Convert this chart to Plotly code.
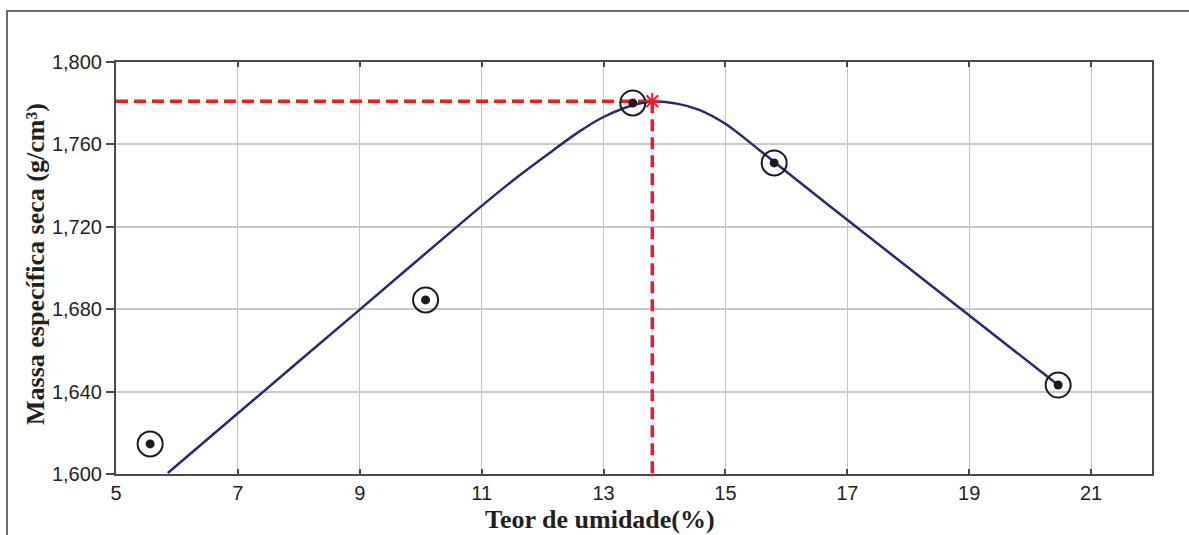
import plotly.graph_objects as go

# Compaction test results: moisture content (%) vs dry density (g/cm³)
moisture = [5.56, 10.08, 13.48, 15.80, 20.46]
dry_density = [1.6146, 1.6845, 1.7801, 1.7510, 1.6432]

# Fitted compaction curve
curve_x = [5.85, 7.0, 9.0, 10.8, 11.56, 12.12, 12.6, 13.0, 13.48, 13.8,
           14.2, 14.57, 15.0, 15.56, 15.8, 16.7, 20.46]
curve_y = [1.6005, 1.6295, 1.6798, 1.7252, 1.7436, 1.7560, 1.7662, 1.7733,
           1.7790, 1.7808, 1.7798, 1.7768, 1.7700, 1.7572, 1.7515, 1.7303,
           1.6432]

# Optimum point (optimum moisture content, maximum dry density)
w_opt = 13.8
rho_max = 1.781

x_ticks = [5, 7, 9, 11, 13, 15, 17, 19, 21]
y_ticks = [1.600, 1.640, 1.680, 1.720, 1.760, 1.800]

W, H = 1189, 535
L, R, T, B = 116, 37, 62, 61
PW, PH = W - L - R, H - T - B


def px(x):
    return (x - L) / PW


def py(y):
    return (H - B - y) / PH


RED = "#ee1c24"
INK = "#1a1a1a"

fig = go.Figure()

# dashed guides to the optimum
fig.add_trace(go.Scatter(
    x=[x_ticks[0], w_opt], y=[rho_max, rho_max], mode="lines",
    line=dict(color=RED, width=3.5, dash="12px,6px"),
    hoverinfo="skip", showlegend=False))
fig.add_trace(go.Scatter(
    x=[w_opt, w_opt], y=[rho_max, y_ticks[0]], mode="lines",
    line=dict(color=RED, width=3.5, dash="12px,6px"),
    hoverinfo="skip", showlegend=False))

# fitted curve
fig.add_trace(go.Scatter(
    x=curve_x, y=curve_y, mode="lines",
    line=dict(color="#262a74", width=2.5, shape="spline", smoothing=0.8),
    showlegend=False))

# measured points: ring + dot
fig.add_trace(go.Scatter(
    x=moisture, y=dry_density, mode="markers",
    marker=dict(symbol="circle-open", size=25, color=INK,
                line=dict(width=2, color=INK)),
    showlegend=False))
fig.add_trace(go.Scatter(
    x=moisture, y=dry_density, mode="markers",
    marker=dict(symbol="circle", size=9, color=INK),
    showlegend=False))

# optimum marker
fig.add_trace(go.Scatter(
    x=[w_opt], y=[rho_max], mode="markers",
    marker=dict(symbol="asterisk-open", size=14, color=RED,
                line=dict(width=2, color=RED)),
    showlegend=False))

tick_font = dict(family="Liberation Sans, Arial, sans-serif", size=20,
                 color="#231f20")
title_font = dict(family="Liberation Serif, Times New Roman, serif", size=26,
                  color="#231f20")

fig.update_xaxes(
    range=[5, 22], tickvals=x_ticks, ticktext=[str(v) for v in x_ticks],
    showgrid=True, gridcolor="#c4c4c4", gridwidth=1,
    showline=True, linecolor="#4a4a4a", linewidth=2, mirror="ticks",
    ticks="inside", ticklen=5, tickcolor="#4a4a4a", tickwidth=1.5,
    tickfont=tick_font, zeroline=False)
fig.update_yaxes(
    range=[1.6, 1.8], tickvals=y_ticks, tickformat=".3f",
    showgrid=True, gridcolor="#c8c8c8", gridwidth=2,
    showline=True, linecolor="#4a4a4a", linewidth=2, mirror=True,
    ticks="outside", ticklen=8, tickcolor="#4a4a4a", tickwidth=1.5,
    tickfont=tick_font, zeroline=False)

fig.update_layout(
    width=W, height=H,
    margin=dict(l=L, r=R, t=T, b=B),
    paper_bgcolor="white", plot_bgcolor="white",
    separators=",.",
    shapes=[dict(type="rect", xref="paper", yref="paper",
                 x0=px(7), x1=px(W + 10), y0=py(H + 10), y1=py(11),
                 line=dict(color="#3a3a3a", width=1.5), layer="below")],
    annotations=[
        dict(text="<b>Teor de umidade(%)</b>", xref="paper", yref="paper",
             x=px(600), y=py(519), xanchor="center", yanchor="middle",
             showarrow=False, font=title_font),
        dict(text="<b>Massa específica seca (g/cm³)</b>", xref="paper",
             yref="paper", x=px(35), y=py(264), xanchor="center",
             yanchor="middle", textangle=-90, showarrow=False,
             font=title_font),
    ],
)

fig.write_html("out.html")
